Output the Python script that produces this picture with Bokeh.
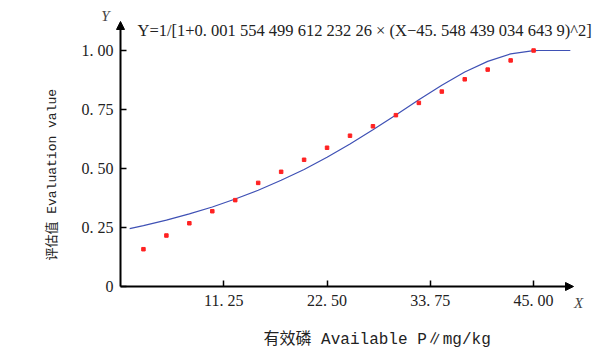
import math
from bokeh.plotting import figure
from bokeh.models import Range1d, Label, Arrow, NormalHead, FixedTicker
from bokeh.embed import file_html
from bokeh.resources import INLINE

# ---- data ----
point_x = [2.5, 5.0, 7.5, 10.0, 12.5, 15.0, 17.5, 20.0, 22.5, 25.0, 27.5, 30.0,
           32.5, 35.0, 37.5, 40.0, 42.5, 45.0]
point_y = [0.158, 0.216, 0.268, 0.319, 0.366, 0.439, 0.486, 0.537, 0.588, 0.639,
           0.679, 0.726, 0.778, 0.826, 0.878, 0.919, 0.958, 1.0]

curve_x = [1.0, 2.5, 5.0, 7.5, 10.0, 12.5, 15.0, 17.5, 20.0, 22.5, 25.0, 27.5,
           30.0, 32.5, 35.0, 37.5, 40.0, 42.5, 45.0, 45.55, 49.0]
curve_y = [0.245, 0.258, 0.281, 0.308, 0.337, 0.371, 0.408, 0.450, 0.496, 0.548,
           0.604, 0.664, 0.727, 0.791, 0.853, 0.909, 0.954, 0.986, 0.9995, 1.0, 1.0]

x_ticks = [11.25, 22.5, 33.75, 45.0]
x_tick_labels = ["11. 25", "22. 50", "33. 75", "45. 00"]
y_ticks = [0, 0.25, 0.5, 0.75, 1.0]
y_tick_labels = ["0", "0. 25", "0. 50", "0. 75", "1. 00"]

equation = "Y=1/[1+0. 001  554  499  612  232  26 × (X\u221245. 548  439  034  643  9)^2]"
x_title = "有效磷 Available P\u2225mg/kg"
y_title = "评估值 Evaluation value"

# ---- figure: frame spans the canvas, axes sit at the origin ----
p = figure(width=600, height=351, output_backend="svg", toolbar_location=None,
           x_range=Range1d(-13.072, 52.288), y_range=Range1d(-0.2754, 1.2119),
           min_border_left=0, min_border_right=0, min_border_top=0,
           min_border_bottom=0)
p.outline_line_color = None
p.grid.visible = False
p.background_fill_color = "white"
p.border_fill_color = "white"

for ax, ticks, labels in ((p.xaxis[0], x_ticks, x_tick_labels),
                          (p.yaxis[0], y_ticks, y_tick_labels)):
    ax.fixed_location = 0
    ax.ticker = FixedTicker(ticks=ticks)
    ax.major_label_overrides = {t: l for t, l in zip(ticks, labels)}
    ax.axis_line_color = None
    ax.major_tick_in = 6
    ax.major_tick_out = 0
    ax.major_tick_line_width = 1.5
    ax.major_tick_line_color = "black"
    ax.minor_tick_line_color = None
    ax.major_label_text_font = "Liberation Serif"
    ax.major_label_text_font_size = "16px"
    ax.major_label_text_color = "#222222"
p.yaxis.major_label_standoff = 7
p.xaxis.major_label_standoff = 5

# axis arrows
p.add_layout(Arrow(x_start=0, y_start=0, x_end=49.35, y_end=0, line_width=2,
                   line_color="black",
                   end=NormalHead(size=8, fill_color="black", line_color="black")))
p.add_layout(Arrow(x_start=0, y_start=0, x_end=0, y_end=1.123, line_width=2,
                   line_color="black",
                   end=NormalHead(size=8, fill_color="black", line_color="black")))

# fitted curve and observed points
p.line(curve_x, curve_y, line_color="#3f51b5", line_width=1.2)
p.scatter(point_x, point_y, marker="square", size=3.5, fill_color="#ff2222",
          line_color="#ff2222")

# texts
p.add_layout(Label(x=1.852, y=1.0847, text=equation, text_font="Liberation Serif",
                   text_font_size="16.5px", text_baseline="middle", text_color="#222222"))
p.add_layout(Label(x=-1.634, y=1.148, text="Y", text_font="Liberation Serif",
                   text_font_style="italic", text_font_size="15px",
                   text_align="center", text_baseline="middle"))
p.add_layout(Label(x=49.89, y=-0.0678, text="X", text_font="Liberation Serif",
                   text_font_style="italic", text_font_size="15px",
                   text_align="center", text_baseline="middle"))
p.add_layout(Label(x=15.58, y=-0.225, text=x_title,
                   text_font="Liberation Mono, Noto Sans CJK SC",
                   text_font_size="16px", text_align="left", text_baseline="middle",
                   text_color="#222222"))
p.add_layout(Label(x=-7.407, y=0.110, text=y_title, angle=math.pi / 2,
                   text_font="Liberation Mono, Noto Sans CJK SC",
                   text_font_size="13px", text_align="left", text_baseline="middle",
                   text_color="#222222"))

open("out.html", "w").write(file_html(p, INLINE))
